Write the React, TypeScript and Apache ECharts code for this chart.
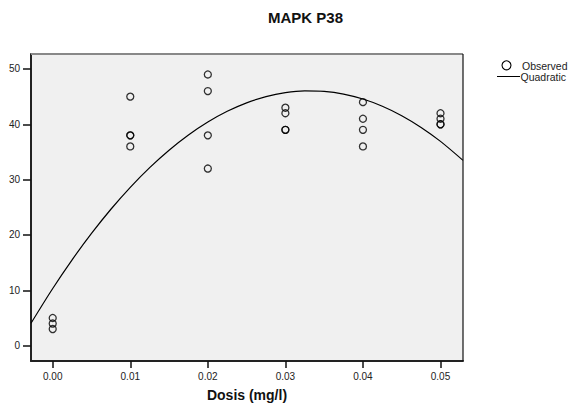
import React, { useEffect, useRef } from "react";
import * as echarts from "echarts";

const doses = [0, 0.01, 0.02, 0.03, 0.04, 0.05];
const observed: number[][] = [
  [5, 4, 3],
  [45, 38, 38, 36],
  [49, 46, 38, 32],
  [43, 42, 39, 39],
  [44, 41, 39, 36],
  [42, 41, 40, 40],
];
const quadX = [
  -0.0028, 0, 0.0025, 0.005, 0.0075, 0.01, 0.0125, 0.015, 0.0175, 0.02, 0.0225, 0.025,
  0.0275, 0.03, 0.0325, 0.035, 0.0375, 0.04, 0.0425, 0.045, 0.0475, 0.05, 0.0529,
];
const quadY = [
  4.05, 10.33, 15.51, 20.28, 24.65, 28.61, 32.17, 35.32, 38.07, 40.41, 42.35, 43.88,
  45.01, 45.73, 46.04, 45.95, 45.46, 44.56, 43.26, 41.55, 39.43, 36.91, 33.48,
];
const xTicks = [0, 0.01, 0.02, 0.03, 0.04, 0.05];
const yTicks = [0, 10, 20, 30, 40, 50];
const legendNames = ["Observed", "Quadratic"];

const FONT = "Liberation Sans, Arial, sans-serif";

export default function App() {
  const ref = useRef<HTMLDivElement>(null);
  useEffect(() => {
    if (!ref.current) return;
    const chart = echarts.init(ref.current, null, { renderer: "svg" });
    const scatterData: number[][] = [];
    doses.forEach((d, i) => observed[i].forEach((v) => scatterData.push([d, v])));
    const lineData = quadX.map((x, i) => [x, quadY[i]]);
    const gl = 31, gt = 54, gw = 432, gh = 307;
    const legendText = { fontFamily: FONT, fontSize: 10.5, fill: "#222", textVerticalAlign: "middle" };
    chart.setOption({
      animation: false,
      backgroundColor: "#ffffff",
      title: {
        text: "MAPK P38",
        left: 268,
        top: 10,
        padding: 0,
        textStyle: { fontFamily: FONT, fontSize: 15, fontWeight: "bold", color: "#111" },
      },
      grid: {
        left: gl,
        top: gt,
        width: gw,
        height: gh,
        show: true,
        backgroundColor: "#f0f0f0",
        borderWidth: 0,
        containLabel: false,
        outerBoundsMode: "none",
      },
      xAxis: {
        type: "value",
        min: -0.0028,
        max: 0.0529,
        name: "Dosis (mg/l)",
        nameLocation: "middle",
        nameGap: 27,
        nameTextStyle: { fontFamily: FONT, fontSize: 14, fontWeight: "bold", color: "#111" },
        axisLine: { show: true, onZero: false, lineStyle: { color: "#222", width: 2 } },
        axisTick: { show: true, length: 7, lineStyle: { color: "#111", width: 1.5 }, customValues: xTicks },
        axisLabel: {
          fontFamily: FONT,
          fontSize: 10,
          color: "#222",
          margin: 10,
          customValues: xTicks,
          formatter: (v: number) => v.toFixed(2),
        },
        splitLine: { show: false },
      },
      yAxis: {
        type: "value",
        min: -2.77,
        max: 52.7,
        axisLine: { show: true, onZero: false, lineStyle: { color: "#222", width: 2 } },
        axisTick: { show: true, length: 8, lineStyle: { color: "#111", width: 1.5 }, customValues: yTicks },
        axisLabel: {
          fontFamily: FONT,
          fontSize: 10,
          color: "#222",
          margin: 11,
          customValues: yTicks,
        },
        splitLine: { show: false },
      },
      graphic: [
        { type: "line", shape: { x1: gl, y1: gt, x2: gl + gw, y2: gt }, style: { stroke: "#888", lineWidth: 2 }, z: 10 },
        { type: "line", shape: { x1: gl + gw, y1: gt, x2: gl + gw, y2: gt + gh }, style: { stroke: "#111", lineWidth: 1.2 }, z: 10 },
        { type: "circle", shape: { cx: 506.5, cy: 65.3, r: 4.5 }, style: { fill: "none", stroke: "#000", lineWidth: 1.1 } },
        { type: "text", x: 522, y: 65.5, style: { ...legendText, text: legendNames[0] } },
        { type: "line", shape: { x1: 497, y1: 76.5, x2: 520, y2: 76.5 }, style: { stroke: "#000", lineWidth: 1 } },
        { type: "text", x: 520.5, y: 76.5, style: { ...legendText, text: legendNames[1] } },
      ],
      series: [
        {
          name: "Observed",
          type: "scatter",
          data: scatterData,
          symbol: "circle",
          symbolSize: 7,
          itemStyle: { color: "rgba(0,0,0,0)", borderColor: "#000", borderWidth: 1.3 },
          z: 3,
        },
        {
          name: "Quadratic",
          type: "line",
          data: lineData,
          smooth: 0.3,
          symbol: "none",
          itemStyle: { color: "#000" },
          lineStyle: { color: "#000", width: 1.2 },
          z: 2,
        },
      ],
    });
    return () => chart.dispose();
  }, []);
  return (
    <div
      ref={ref}
      style={{ position: "fixed", left: 0, top: 0, width: 571, height: 405 }}
    />
  );
}
